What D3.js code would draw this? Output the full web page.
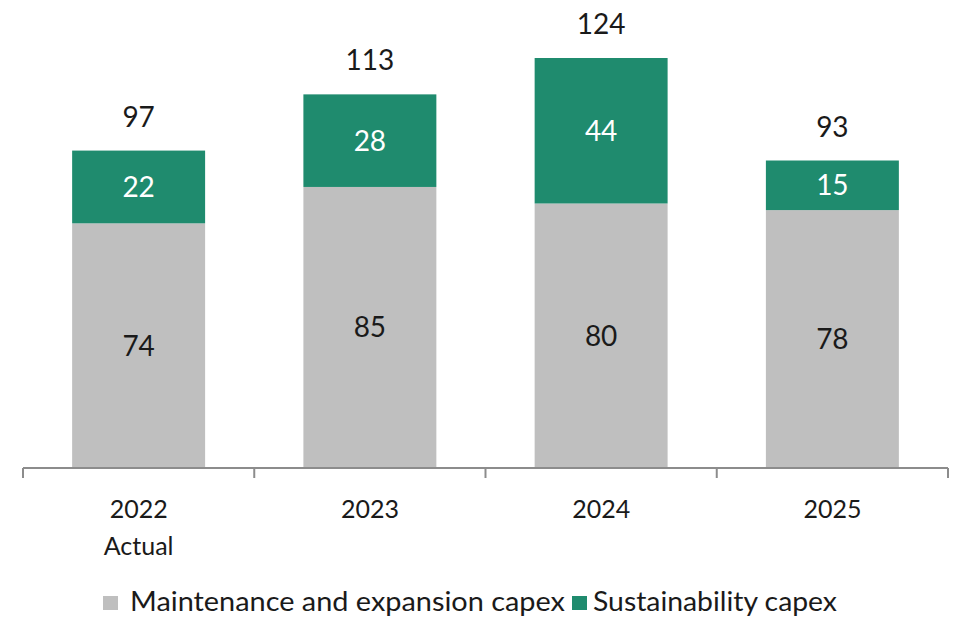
<!DOCTYPE html>
<html>
<head>
<meta charset="utf-8">
<script src="https://cdn.jsdelivr.net/npm/d3@7"></script>
<style>
  html, body { margin: 0; padding: 0; background: #fff; }
  svg { display: block; }
  text { font-family: Lato, "Open Sans", sans-serif; fill: #1a1a1a; }
</style>
</head>
<body>
<svg id="chart" width="955" height="618"></svg>
<script>
// Capex by year (stacked), values as labelled
const years = ["2022", "2023", "2024", "2025"];
const subLabels = ["Actual", "", "", ""];
const maintenance = [74, 85, 80, 78];
const sustainability = [22, 28, 44, 15];
const totals = [97, 113, 124, 93];
const seriesNames = ["Maintenance and expansion capex", "Sustainability capex"];
const seriesColors = ["#bfbfbf", "#1f8b6e"];
const labelColors = ["#1a1a1a", "#ffffff"];

const svg = d3.select("#chart");
const baseY = 468;

const x = d3.scaleBand().domain(years).range([23, 948])
  .paddingInner(0.425).paddingOuter(0.2125);
const y = d3.scaleLinear().domain([0, 124]).range([baseY, 58]);

const rows = years.map((yr, i) => ({ year: yr, m: maintenance[i], s: sustainability[i] }));
const stack = d3.stack().keys(["m", "s"])(rows);

// stacked bars
const layers = svg.append("g").selectAll("g").data(stack).join("g")
  .attr("fill", (d, i) => seriesColors[i]);

layers.selectAll("rect").data(d => d).join("rect")
  .attr("x", d => x(d.data.year))
  .attr("width", x.bandwidth())
  .attr("y", d => y(d[1]))
  .attr("height", d => y(d[0]) - y(d[1]));

// segment value labels
layers.each(function(layer, li) {
  d3.select(this).selectAll("text").data(layer).join("text")
    .attr("x", d => x(d.data.year) + x.bandwidth() / 2)
    .attr("y", d => (y(d[0]) + y(d[1])) / 2 + 10)
    .attr("text-anchor", "middle")
    .attr("font-size", 28)
    .style("fill", labelColors[li])
    .text(d => d[1] - d[0]);
});

// totals above each stack
svg.append("g").selectAll("text").data(rows).join("text")
  .attr("x", d => x(d.year) + x.bandwidth() / 2)
  .attr("y", d => y(d.m + d.s) - 24)
  .attr("text-anchor", "middle")
  .attr("font-size", 28)
  .text((d, i) => totals[i]);

// category axis with ticks between bands
const axisColor = "#8c8c8c";
const step = x.step();
const bounds = years.map(yr => x(yr) - x.paddingInner() * step / 2);
bounds.push(x(years[years.length - 1]) + x.bandwidth() + x.paddingInner() * step / 2);

const axisG = svg.append("g");
axisG.append("line")
  .attr("x1", bounds[0]).attr("x2", bounds[bounds.length - 1])
  .attr("y1", baseY).attr("y2", baseY)
  .attr("stroke", axisColor).attr("stroke-width", 2);
axisG.selectAll("line.tick").data(bounds).join("line")
  .attr("class", "tick")
  .attr("x1", d => d).attr("x2", d => d)
  .attr("y1", baseY).attr("y2", baseY + 10)
  .attr("stroke", axisColor).attr("stroke-width", 2);

const catG = svg.append("g").selectAll("g").data(years).join("g")
  .attr("transform", d => `translate(${x(d) + x.bandwidth() / 2},0)`);
catG.append("text")
  .attr("y", 518).attr("text-anchor", "middle").attr("font-size", 25)
  .text(d => d);
catG.append("text")
  .attr("y", 555).attr("text-anchor", "middle").attr("font-size", 25)
  .text((d, i) => subLabels[i]);

// legend
const legendItems = [
  { name: seriesNames[0], color: seriesColors[0], sx: 103, tx: 130, len: 435 },
  { name: seriesNames[1], color: seriesColors[1], sx: 572, tx: 593, len: 244 }
];
const lg = svg.append("g").selectAll("g").data(legendItems).join("g");
lg.append("rect")
  .attr("x", d => d.sx).attr("y", 596).attr("width", 15).attr("height", 14)
  .attr("fill", d => d.color);
lg.append("text")
  .attr("x", d => d.tx).attr("y", 611).attr("font-size", 26)
  .attr("textLength", d => d.len).attr("lengthAdjust", "spacingAndGlyphs")
  .text(d => d.name);
</script>
</body>
</html>
